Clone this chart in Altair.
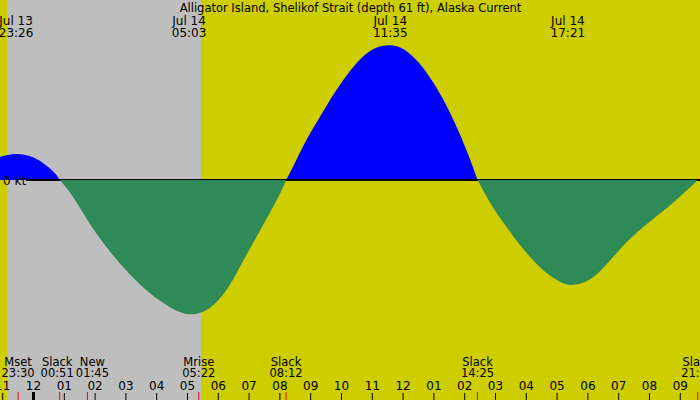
import altair as alt
import pandas as pd

TITLE = "Alligator Island, Shelikof Strait (depth 61 ft), Alaska Current"

# current curve: hours relative to Jul 14 00:00, speed in knots (+ flood, - ebb)
curve_hours = [-1.09, -0.85, -0.567, -0.30, -0.02, 0.31, 0.54, 0.76, 0.85,
               1.185, 1.51, 1.834, 2.159, 2.484, 2.808, 3.133, 3.458, 3.782, 4.107,
               4.432, 4.756, 5.05, 5.406, 5.731, 6.055, 6.38, 6.705, 7.029, 7.354,
               7.679, 8.003, 8.2,
               8.425, 8.75, 9.075, 9.302, 9.734, 10.169, 10.601, 11.032, 11.315, 11.583,
               11.843, 12.094, 12.526, 12.981, 13.416, 13.847, 14.107, 14.269, 14.417,
               14.821, 15.146, 15.568, 15.795, 16.12, 16.445, 16.769, 17.094, 17.35,
               17.744, 18.068, 18.393, 18.718, 19.042, 19.367, 19.692, 20.016, 20.341,
               20.666, 20.99, 21.315, 21.567]
curve_knots = [0.233, 0.252, 0.262, 0.255, 0.233, 0.173, 0.117, 0.05, 0.0,
               -0.117, -0.282, -0.442, -0.587, -0.717, -0.837, -0.947, -1.047, -1.134, -1.209,
               -1.274, -1.324, -1.35, -1.333, -1.285, -1.19, -1.055, -0.867, -0.685, -0.505,
               -0.325, -0.145, 0.0,
               0.13, 0.34, 0.52, 0.63, 0.86, 1.05, 1.217, 1.317, 1.343, 1.35,
               1.335, 1.30, 1.18, 0.98, 0.75, 0.46, 0.26, 0.13, 0.0,
               -0.23, -0.38, -0.56, -0.65, -0.77, -0.875, -0.96, -1.02, -1.057,
               -1.043, -1.0, -0.917, -0.805, -0.69, -0.585, -0.495, -0.415, -0.335,
               -0.255, -0.165, -0.075, 0.0]

# maximum current labels (top)
max_hours = [-0.567, 5.05, 11.583, 17.35]
max_days = ["Jul 13", "Jul 14", "Jul 14", "Jul 14"]
max_times = ["23:26", "05:03", "11:35", "17:21"]

# events (bottom)
event_hours = [-0.5, 0.85, 1.75, 5.367, 8.2, 14.417, 21.567]
event_names = ["Mset", "Slack", "New", "Mrise", "Slack", "Slack", "Slack"]
event_times = ["23:30", "00:51", "01:45", "05:22", "08:12", "14:25", "21:34"]

# night (sunset -> sunrise)
night_start = [-0.86]
night_end = [5.44]

# hour ticks
tick_hours = list(range(-1, 22))
tick_labels = ["11", "12", "01", "02", "03", "04", "05", "06", "07", "08", "09", "10",
               "11", "12", "01", "02", "03", "04", "05", "06", "07", "08", "09"]

# split the curve into lobes between slack points
rows = []
lobe = 0
for i, (h, v) in enumerate(zip(curve_hours, curve_knots)):
    rows.append({"h": h, "v": v, "lobe": lobe})
    if v == 0.0 and 0 < i < len(curve_hours) - 1:
        lobe += 1
        rows.append({"h": h, "v": v, "lobe": lobe})
lobes = pd.DataFrame(rows)
sign = lobes.groupby("lobe")["v"].sum().apply(lambda s: "flood" if s > 0 else "ebb")
lobes["dir"] = lobes["lobe"].map(sign)
lobes["zero"] = 0.0

maxima = pd.DataFrame({"h": max_hours, "day": max_days, "time": max_times})
events = pd.DataFrame({"h": event_hours, "name": event_names, "time": event_times,
                       "i": list(range(len(event_hours)))})
night = pd.DataFrame({"h": night_start, "h2": night_end})
ticks = pd.DataFrame({"h": tick_hours, "label": tick_labels})
zero_df = pd.DataFrame({"zero": [0.0], "txt": ["0 kt"], "title": [TITLE]})

xs = alt.Scale(domain=[-1.088, 21.64], nice=False, zero=False)
ys = alt.Scale(domain=[-2.2, 1.8], nice=False, zero=False)
FONT = "DejaVu Sans"

X = alt.X("h:Q", scale=xs, axis=None)
Y0 = alt.Y("zero:Q", scale=ys, axis=None)

night_layer = alt.Chart(night).mark_rect(color="#BEBEBE").encode(
    x=X, x2="h2:Q", y=alt.value(0), y2=alt.value(400))


def lobe_layer(direction, color):
    return alt.Chart(lobes).transform_filter(f"datum.dir == '{direction}'").mark_area(
        color=color, interpolate="basis").encode(
        x=X, y=alt.Y("v:Q", scale=ys, axis=None), y2="zero:Q", detail="lobe:N")


pos_layer = lobe_layer("flood", "#0000FF")
neg_layer = lobe_layer("ebb", "#2E8B57")

zero_line = alt.Chart(zero_df).mark_rule(color="black", strokeWidth=2).encode(
    x=alt.value(26), x2=alt.value(700), y=Y0)

zero_label = alt.Chart(zero_df).mark_text(
    align="left", baseline="alphabetic", font=FONT, fontSize=12, color="black"
).encode(x=alt.value(3), y=alt.value(185), text="txt:N")

title_layer = alt.Chart(zero_df).mark_text(
    align="center", baseline="alphabetic", font=FONT, fontSize=11.5, color="black"
).encode(x=alt.value(350.5), y=alt.value(12), text="title:N")

max_day = alt.Chart(maxima).mark_text(
    align="center", baseline="alphabetic", font=FONT, fontSize=12, color="black"
).encode(x=X, y=alt.value(25), text="day:N")
max_time = alt.Chart(maxima).mark_text(
    align="center", baseline="alphabetic", font=FONT, fontSize=12, color="black"
).encode(x=X, y=alt.value(37), text="time:N")


def ev_text(field, ypx, flt, dx):
    return alt.Chart(events).transform_filter(flt).mark_text(
        align="center", baseline="alphabetic", font=FONT, fontSize=11.5, color="black", dx=dx
    ).encode(x=X, y=alt.value(ypx), text=f"{field}:N")


ev_layers = []
for flt, dx in [("datum.i != 1 && datum.i != 2", 0), ("datum.i == 1", -2.5), ("datum.i == 2", 5)]:
    ev_layers.append(ev_text("name", 366, flt, dx))
    ev_layers.append(ev_text("time", 377, flt, dx))

tick_rules = alt.Chart(ticks).mark_rule(color="black", strokeWidth=1).encode(
    x=X, y=alt.value(393), y2=alt.value(400))
midnight_rule = alt.Chart(ticks).transform_filter("datum.h == 0").mark_rule(
    color="black", strokeWidth=3).encode(x=X, y=alt.value(392), y2=alt.value(400))
tick_text = alt.Chart(ticks).mark_text(
    align="center", baseline="alphabetic", font=FONT, fontSize=12, color="black"
).encode(x=X, y=alt.value(390), text="label:N")
event_rules = alt.Chart(events).mark_rule(color="#FF0000", strokeWidth=1).encode(
    x=X, y=alt.value(392), y2=alt.value(400))

chart = alt.layer(
    night_layer, pos_layer, zero_line, neg_layer, zero_label, title_layer,
    max_day, max_time, *ev_layers, tick_rules, midnight_rule, tick_text, event_rules
).properties(
    width=700, height=400, autosize=alt.AutoSizeParams(type="none"), padding=0
).configure(background="#CDCD00").configure_view(strokeWidth=0)

chart.save("out.html", embed_options={"renderer": "svg", "actions": False})
